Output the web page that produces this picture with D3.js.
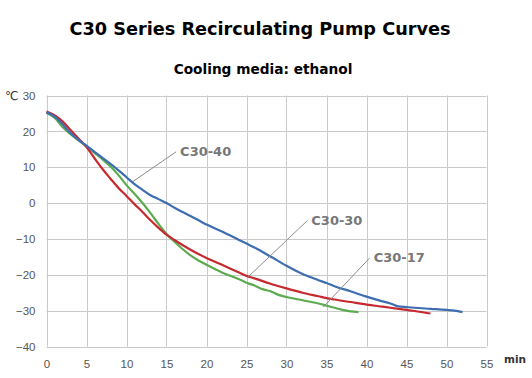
<!DOCTYPE html>
<html>
<head>
<meta charset="utf-8">
<script src="https://cdn.jsdelivr.net/npm/d3@7"></script>
<style>
  body { margin: 0; background: #fff; }
  svg { display: block; }
</style>
</head>
<body>
<div id="chart"></div>
<script>
// Chart data
const xTicks = [0, 5, 10, 15, 20, 25, 30, 35, 40, 45, 50, 55];
const yTicks = [30, 20, 10, 0, -10, -20, -30, -40];

const blueMin = [0, 1, 2, 3, 4, 5, 6, 7, 8, 9, 10, 11, 12, 13, 14, 15, 16, 17, 18, 19, 20, 22, 24, 25, 26, 28, 30, 32, 34, 35, 36, 38, 40, 42, 43, 44, 45, 46, 48, 50, 51, 52];
const blueTemp = [25.3, 24.2, 22, 19.5, 17.6, 16, 14.3, 12.6, 10.9, 9.1, 7.2, 5.3, 3.7, 2.2, 1.1, 0, -1.3, -2.5, -3.6, -4.8, -6, -8, -10.2, -11.3, -12.4, -14.9, -17.5, -19.8, -21.5, -22.3, -23.2, -24.6, -26.1, -27.4, -28, -28.8, -29, -29.2, -29.5, -29.8, -30, -30.4];

const redMin = [0, 1, 2, 3, 4, 5, 6, 7, 8, 9, 10, 11, 12, 13, 14, 15, 16, 17, 18, 19, 20, 22, 24, 25, 26, 28, 30, 32, 34, 35, 36, 38, 40, 42, 44, 45, 46, 48];
const redTemp = [25.5, 24.5, 22.8, 20.4, 18, 15.6, 12.5, 9.5, 6.8, 4.2, 2, -0.3, -2.5, -4.8, -6.9, -8.8, -10.3, -11.7, -13, -14.2, -15.3, -17.3, -19.3, -20.3, -21, -22.5, -23.8, -25, -26, -26.5, -26.9, -27.6, -28.3, -28.9, -29.5, -29.8, -30.1, -30.8];

const greenMin = [0, 1, 2, 3, 4, 5, 6, 7, 8, 9, 10, 11, 12, 13, 14, 15, 16, 17, 18, 19, 20, 22, 24, 25, 26, 27, 28, 29, 30, 32, 34, 35, 36, 37, 38, 39];
const greenTemp = [25.2, 23.8, 21.2, 19.2, 17.5, 15.8, 14, 12.2, 10.2, 7.8, 5, 2.6, 0, -2.8, -5.8, -8.6, -10.8, -12.8, -14.6, -16, -17.2, -19.4, -21.2, -22.2, -23, -24, -24.6, -25.6, -26.2, -27.1, -28, -28.6, -29.2, -29.8, -30.2, -30.4];

const seriesNames = ["C30-40", "C30-30", "C30-17"];
// label callouts: point on curve -> end of leader line (minutes, °C)
const calloutFrom = [[10.8, 6.0], [25.2, -20.6], [34.6, -29.0]];
const calloutTo = [[16.2, 14.3], [32.6, -4.9], [40.4, -15.3]];

const W = 532, H = 378;
const svg = d3.select("#chart").append("svg")
    .attr("width", W)
    .attr("height", H);

const x = d3.scaleLinear().domain([0, 55]).range([46.5, 486.5]);
const y = d3.scaleLinear().domain([-40, 30]).range([346.5, 95.5]);

// titles
svg.append("text")
    .attr("x", 260).attr("y", 35)
    .attr("text-anchor", "middle")
    .style("font", "bold 17.7px 'DejaVu Sans'")
    .style("fill", "#000")
    .text("C30 Series Recirculating Pump Curves");

svg.append("text")
    .attr("x", 263).attr("y", 74)
    .attr("text-anchor", "middle")
    .style("font", "bold 13.7px 'DejaVu Sans'")
    .style("fill", "#000")
    .text("Cooling media: ethanol");

// grid
const grid = svg.append("g");
grid.selectAll("line.vx")
    .data(xTicks)
    .enter().append("line")
    .attr("x1", d => Math.round(x(d)) + 0.5).attr("x2", d => Math.round(x(d)) + 0.5)
    .attr("y1", y(30)).attr("y2", y(-40))
    .style("stroke", "#c9c9c9").style("stroke-width", 1);
grid.selectAll("line.hy")
    .data(yTicks)
    .enter().append("line")
    .attr("y1", d => Math.round(y(d)) + 0.5).attr("y2", d => Math.round(y(d)) + 0.5)
    .attr("x1", x(0)).attr("x2", x(55))
    .style("stroke", "#c9c9c9").style("stroke-width", 1);

// axes (labels only, grid does the lines)
const xAxis = svg.append("g")
    .attr("transform", "translate(0," + y(-40) + ")")
    .call(d3.axisBottom(x).tickValues(xTicks).tickSize(0).tickPadding(13));
const yAxis = svg.append("g")
    .attr("transform", "translate(" + x(0) + ",0)")
    .call(d3.axisLeft(y).tickValues(yTicks).tickSize(0).tickPadding(11));
[xAxis, yAxis].forEach(a => {
    a.select(".domain").remove();
    a.selectAll("text")
        .style("font-family", "'Liberation Sans', Arial, sans-serif")
        .style("font-size", "11.5px")
        .style("fill", "#555");
});

svg.append("text")
    .attr("x", 5).attr("y", 100)
    .style("font", "12px 'DejaVu Sans'")
    .style("fill", "#333")
    .text("℃");

svg.append("text")
    .attr("x", 504).attr("y", 363)
    .style("font", "bold 10.5px 'DejaVu Sans'")
    .style("fill", "#333")
    .text("min");

// curves
const line = d3.line()
    .x(d => x(d[0]))
    .y(d => y(d[1]))
    .curve(d3.curveMonotoneX);

const series = [
    { color: "#3e6db0", pts: d3.zip(blueMin, blueTemp) },
    { color: "#c62a2f", pts: d3.zip(redMin, redTemp) },
    { color: "#5cab4e", pts: d3.zip(greenMin, greenTemp) }
];

// draw green first, then red, blue on top
[2, 1, 0].forEach(i => {
    svg.append("path")
        .datum(series[i].pts)
        .attr("d", line)
        .style("fill", "none")
        .style("stroke", series[i].color)
        .style("stroke-width", 2.2)
        .style("stroke-linejoin", "round");
});

// callouts
seriesNames.forEach((name, i) => {
    const a = calloutFrom[i], b = calloutTo[i];
    svg.append("line")
        .attr("x1", x(a[0])).attr("y1", y(a[1]))
        .attr("x2", x(b[0])).attr("y2", y(b[1]))
        .style("stroke", "#8c8c8c").style("stroke-width", 1);
    svg.append("text")
        .attr("x", x(b[0]) + 4).attr("y", y(b[1]) + 4)
        .style("font", "bold 13px 'DejaVu Sans'")
        .style("fill", "#777")
        .text(name);
});
</script>
</body>
</html>
